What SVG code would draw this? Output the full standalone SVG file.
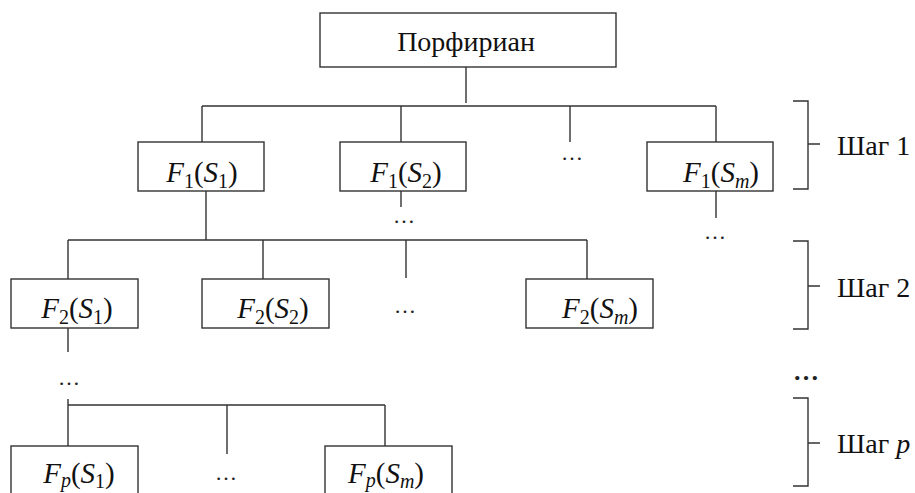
<svg xmlns="http://www.w3.org/2000/svg" width="915" height="493" viewBox="0 0 915 493">
<style>
.box{fill:#fff;stroke:#333;stroke-width:1.4}
.ln{stroke:#333;stroke-width:1.4;fill:none}
.t{font-family:"Liberation Serif","Times New Roman",serif;font-size:28px;fill:#111}
.m{font-family:"Liberation Serif","Times New Roman",serif;font-size:29px;fill:#111}
.i{font-style:italic}
.s{font-size:20px}
.d{font-family:"Liberation Serif",serif;font-size:22px;fill:#222}
</style>
<rect width="915" height="493" fill="#fff"/>
<g id="connectors">
<path class="ln" d="M466,67V103 M202,106H716 M202,106V142 M401,106V142 M570,106V142 M716,106V142"/>
<path class="ln" d="M401,191V207 M716,191V218"/>
<path class="ln" d="M206,191V240 M68,240H587 M68,240V279 M263,240V279 M406,240V278 M587,240V279"/>
<path class="ln" d="M68,328V352 M68,399V446 M68,405H385 M227,405V454 M385,405V446"/>
</g>
<g id="brackets">
<path class="ln" d="M793,101H808V189H793 M808,144H820"/>
<path class="ln" d="M793,241H808V329H793 M808,286H820"/>
<path class="ln" d="M793,398H808V486H793 M808,443H820"/>
<text class="t" x="837" y="155">Шаг 1</text>
<text class="t" x="837" y="297">Шаг 2</text>
<text class="t" x="837" y="453">Шаг <tspan class="i">p</tspan></text>
<text class="d" x="793" y="380" style="font-weight:bold;font-size:26px">…</text>
</g>
<g id="root">
<rect class="box" x="320" y="13" width="296" height="54"/>
<text class="t" x="466" y="51" text-anchor="middle">Порфириан</text>
</g>
<g id="f1s1">
<rect class="box" x="138" y="142" width="126" height="49"/>
<text class="m" x="202" y="182" text-anchor="middle"><tspan class="i">F</tspan><tspan class="s" dy="6">1</tspan><tspan dy="-6">(</tspan><tspan class="i">S</tspan><tspan class="s" dy="6">1</tspan><tspan dy="-6">)</tspan></text>
</g>
<g id="f1s2">
<rect class="box" x="340" y="142" width="126" height="49"/>
<text class="m" x="406" y="182" text-anchor="middle"><tspan class="i">F</tspan><tspan class="s" dy="6">1</tspan><tspan dy="-6">(</tspan><tspan class="i">S</tspan><tspan class="s" dy="6">2</tspan><tspan dy="-6">)</tspan></text>
</g>
<text class="d" x="572" y="160" text-anchor="middle">…</text>
<g id="f1sm">
<rect class="box" x="647" y="142" width="126" height="49"/>
<text class="m" x="721" y="182" text-anchor="middle"><tspan class="i">F</tspan><tspan class="s" dy="6">1</tspan><tspan dy="-6">(</tspan><tspan class="i">S</tspan><tspan class="s i" dy="6">m</tspan><tspan dy="-6">)</tspan></text>
</g>
<text class="d" x="404" y="223" text-anchor="middle">…</text>
<text class="d" x="715" y="239" text-anchor="middle">…</text>
<g id="f2s1">
<rect class="box" x="11" y="279" width="127" height="49"/>
<text class="m" x="77" y="318" text-anchor="middle"><tspan class="i">F</tspan><tspan class="s" dy="6">2</tspan><tspan dy="-6">(</tspan><tspan class="i">S</tspan><tspan class="s" dy="6">1</tspan><tspan dy="-6">)</tspan></text>
</g>
<g id="f2s2">
<rect class="box" x="202" y="279" width="127" height="49"/>
<text class="m" x="273" y="318" text-anchor="middle"><tspan class="i">F</tspan><tspan class="s" dy="6">2</tspan><tspan dy="-6">(</tspan><tspan class="i">S</tspan><tspan class="s" dy="6">2</tspan><tspan dy="-6">)</tspan></text>
</g>
<text class="d" x="405" y="313" text-anchor="middle">…</text>
<g id="f2sm">
<rect class="box" x="526" y="279" width="127" height="49"/>
<text class="m" x="600" y="318" text-anchor="middle"><tspan class="i">F</tspan><tspan class="s" dy="6">2</tspan><tspan dy="-6">(</tspan><tspan class="i">S</tspan><tspan class="s i" dy="6">m</tspan><tspan dy="-6">)</tspan></text>
</g>
<text class="d" x="69" y="385" text-anchor="middle">…</text>
<g id="fps1">
<rect class="box" x="11" y="446" width="127" height="60"/>
<text class="m" x="79" y="483" text-anchor="middle"><tspan class="i">F</tspan><tspan class="s i" dy="4">p</tspan><tspan dy="-4">(</tspan><tspan class="i">S</tspan><tspan class="s" dy="5">1</tspan><tspan dy="-5">)</tspan></text>
</g>
<text class="d" x="226" y="480" text-anchor="middle">…</text>
<g id="fpsm">
<rect class="box" x="325" y="446" width="127" height="60"/>
<text class="m" x="386" y="483" text-anchor="middle"><tspan class="i">F</tspan><tspan class="s i" dy="4">p</tspan><tspan dy="-4">(</tspan><tspan class="i">S</tspan><tspan class="s i" dy="5">m</tspan><tspan dy="-5">)</tspan></text>
</g>
</svg>
